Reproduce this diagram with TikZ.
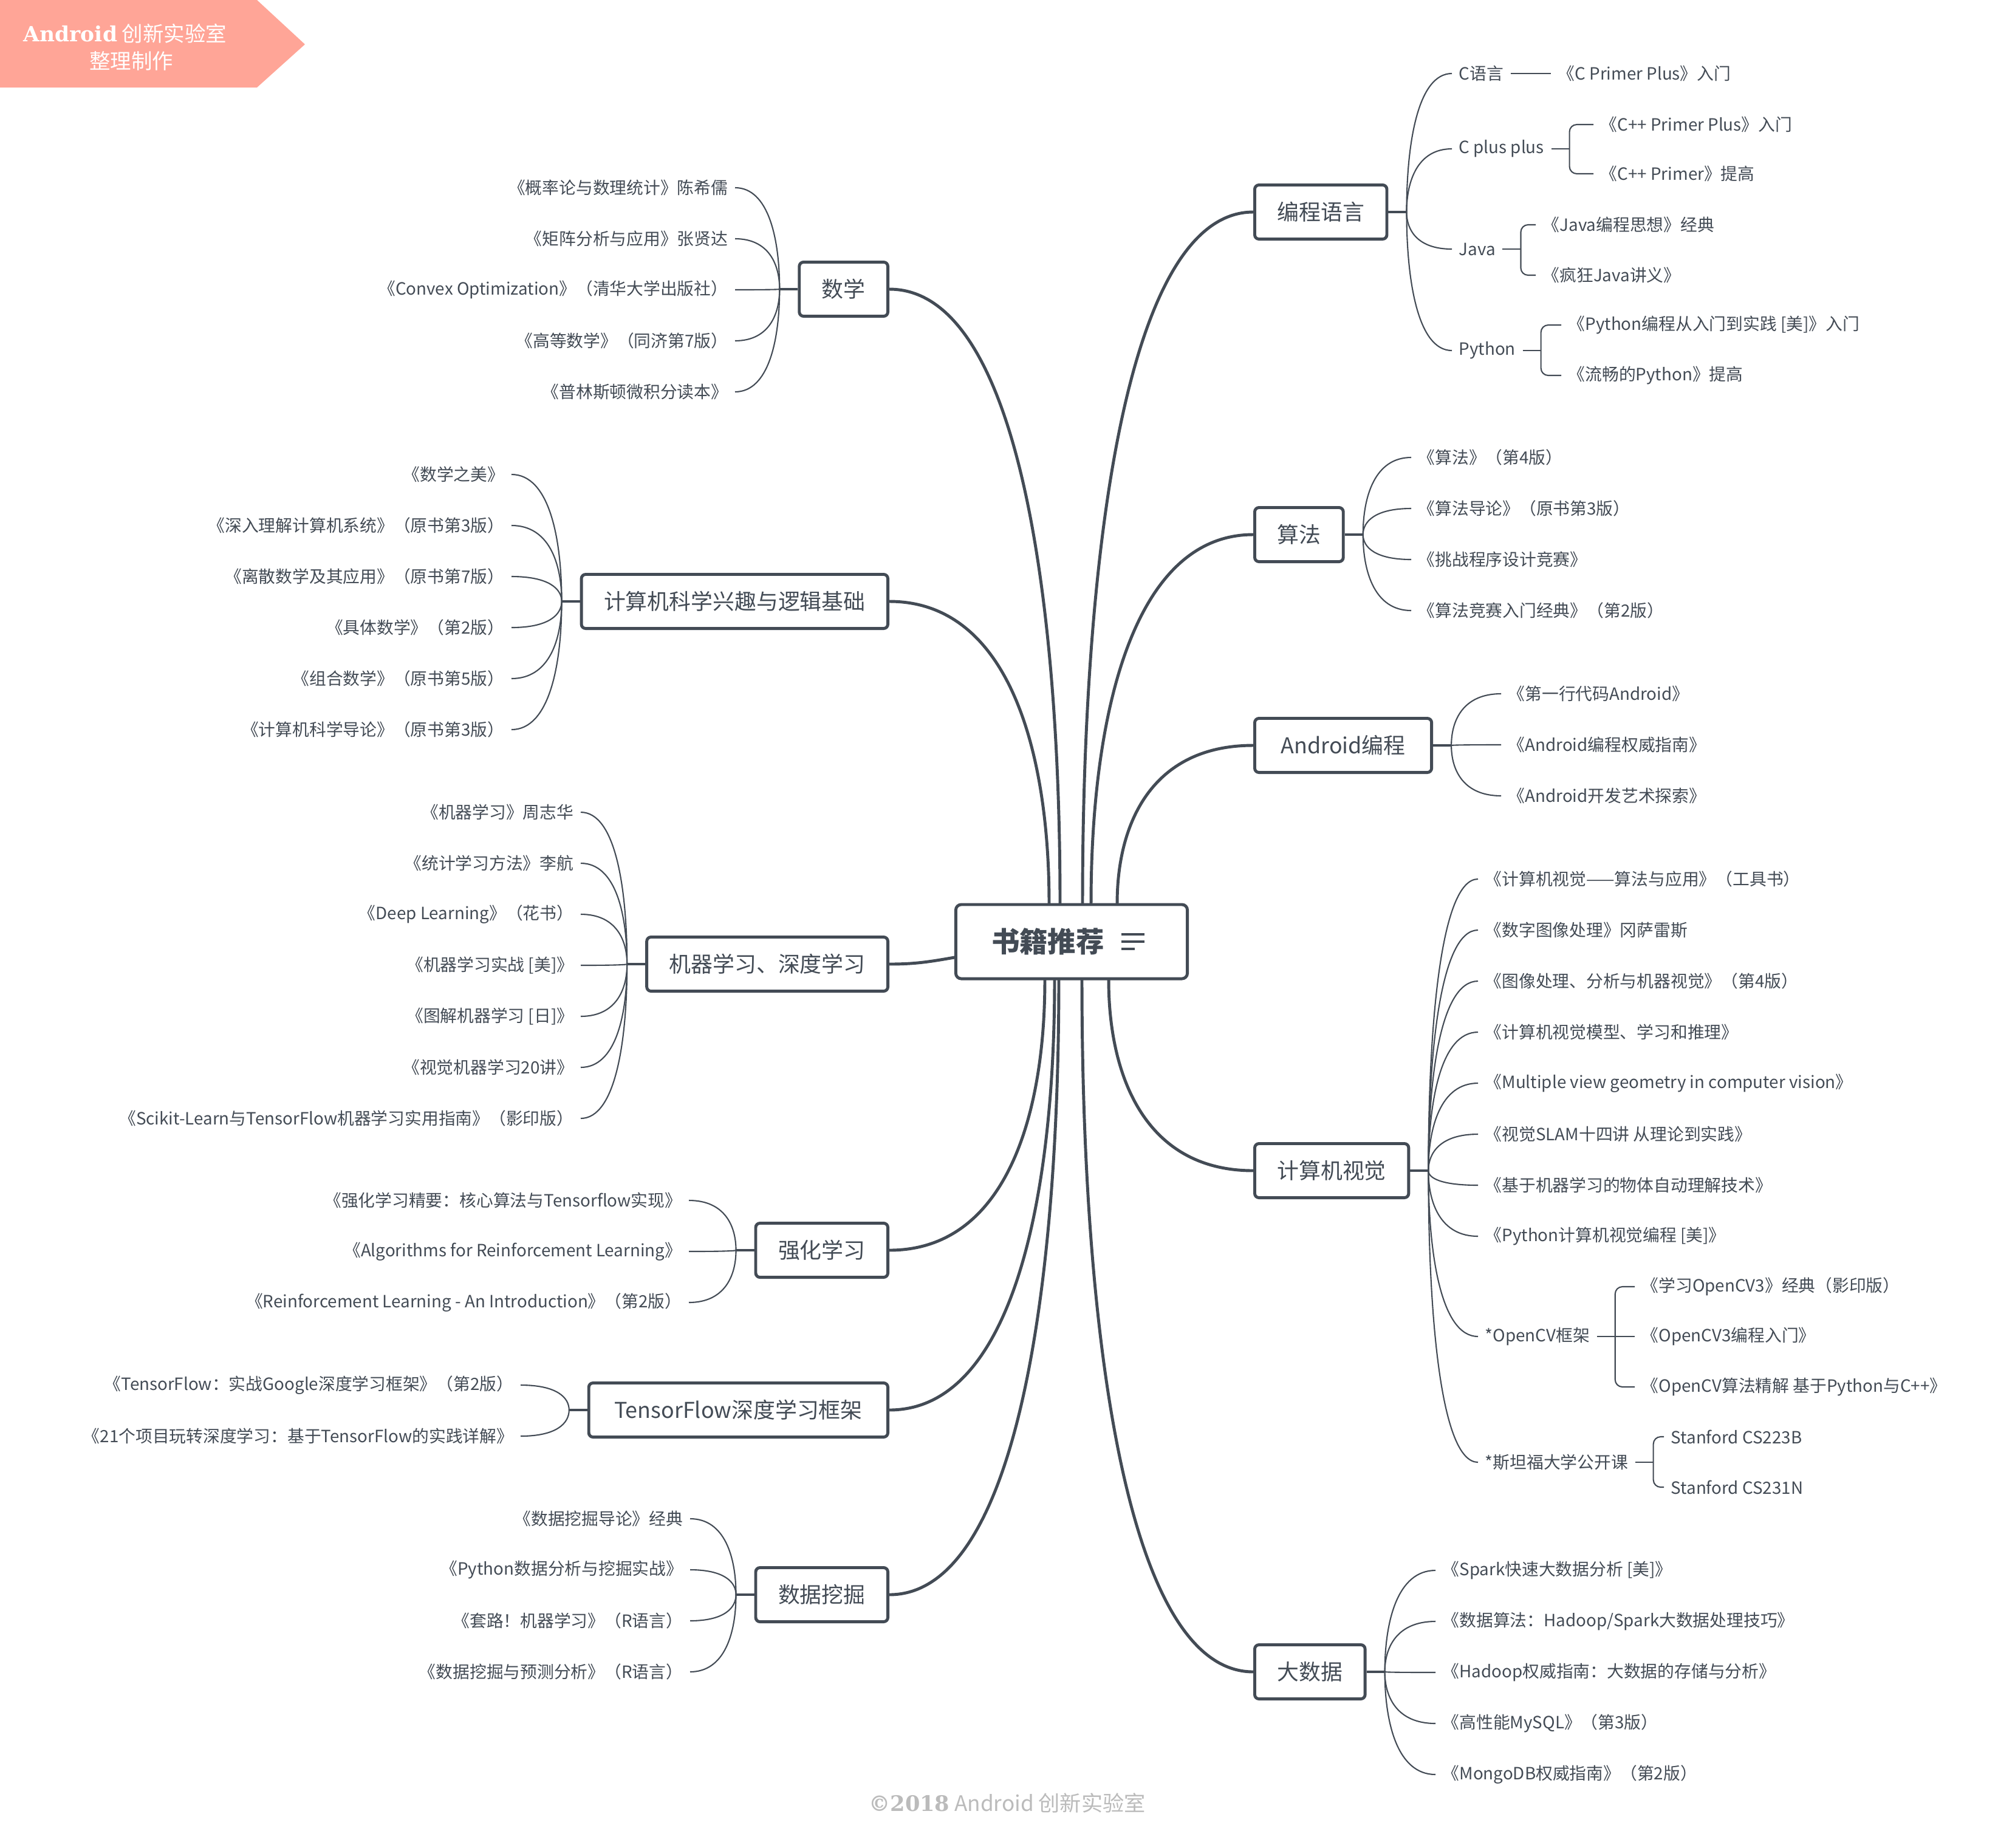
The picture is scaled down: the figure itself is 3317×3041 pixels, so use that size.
\documentclass[tikz,border=0pt]{standalone}
\usepackage{fontspec}
\setmainfont{Noto Sans CJK SC}
\newfontfamily\slabfont{DejaVu Serif}
\usetikzlibrary{calc}
\definecolor{ink}{HTML}{434B55}
\definecolor{badgefill}{HTML}{FFA597}
\definecolor{footgray}{HTML}{BBBBBB}
\tikzset{rootbox/.style={rectangle,draw=ink,line width=1.4pt,rounded corners=0.09cm,fill=white,minimum width=3.81cm,minimum height=1.22cm,text=ink,font=\fontsize{13.2}{15}\selectfont\bfseries},
topicbox/.style={rectangle,draw=ink,line width=1.4pt,rounded corners=0.07cm,fill=white,minimum height=0.89cm,inner xsep=0.37cm,text=ink,font=\fontsize{10.2}{12}\selectfont},
bookleaf/.style={inner xsep=0.11cm,inner ysep=0.03cm,text=ink,font=\fontsize{7.9}{9.4}\selectfont},
bough/.style={draw=ink,line width=1.4pt,line cap=round},
twig/.style={draw=ink,line width=0.6pt},
stubline/.style={draw=ink,line width=0.9pt},
badgetext/.style={text=white,font=\fontsize{9.8}{12}\selectfont}}
% curve that leaves #2 vertically and reaches #3 horizontally
\newcommand{\fanline}[3]{\draw[#1] (#2) .. controls ($(#2)!0.5!(#3 -| #2)$) and ($(#3)!0.75!(#3 -| #2)$) .. (#3);}

\begin{document}
\begin{tikzpicture}[x=0.01cm,y=-0.01cm]
\useasboundingbox (0,0) rectangle (3317,3041);

% badge
\fill[badgefill] (0,0) -- (423,0) -- (502,73) -- (423,144) -- (0,144) -- cycle;
\node[badgetext] (badge1) at (206,55) {{\slabfont\bfseries Android} 创新实验室};
\node[badgetext] (badge2) at (216,100) {整理制作};

% centre
\node[rootbox] (root) at (1764,1550) {书籍推荐\rule{0.78cm}{0pt}};
\foreach \w/\dy in {0.38/0.12, 0.38/0, 0.22/-0.12}
  \draw[ink,line width=1pt] ([xshift=0.82cm,yshift=\dy cm]root.center) -- ++(\w cm,0);

% main topics
\node[topicbox,anchor=east] (math) at (1464,476) {数学};
\node[topicbox,anchor=east] (csbase) at (1464,990) {计算机科学兴趣与逻辑基础};
\node[topicbox,anchor=east] (mldl) at (1464,1587) {机器学习、深度学习};
\node[topicbox,anchor=east] (rl) at (1464,2058) {强化学习};
\node[topicbox,anchor=east,minimum width=4.92cm] (tf) at (1464,2321) {TensorFlow深度学习框架};
\node[topicbox,anchor=east] (dm) at (1464,2625) {数据挖掘};
\node[topicbox,anchor=west] (prog) at (2063,349) {编程语言};
\node[topicbox,anchor=west] (algo) at (2063,880) {算法};
\node[topicbox,anchor=west,minimum width=2.91cm] (andr) at (2063,1227) {Android编程};
\node[topicbox,anchor=west] (cv) at (2063,1927) {计算机视觉};
\node[topicbox,anchor=west] (bigd) at (2063,2752) {大数据};

\foreach \n in {math,csbase,mldl,rl,tf,dm} {
  \coordinate (j\n) at ([xshift=-0.3cm]\n.west);
  \draw[stubline] (\n.west) -- (j\n);
}
\foreach \n in {prog,algo,andr,cv,bigd} {
  \coordinate (j\n) at ([xshift=0.3cm]\n.east);
  \draw[stubline] (\n.east) -- (j\n);
}

% boughs from the centre
\coordinate (rn1) at ([xshift=-0.37cm]root.north);
\coordinate (rn2) at ([xshift=-0.19cm]root.north);
\coordinate (rn3) at ([xshift=0.18cm]root.north);
\coordinate (rn4) at ([xshift=0.32cm]root.north);
\coordinate (rn5) at ([xshift=0.75cm]root.north);
\coordinate (rs1) at ([xshift=-0.44cm]root.south);
\coordinate (rs2) at ([xshift=-0.28cm]root.south);
\coordinate (rs3) at ([xshift=-0.21cm]root.south);
\coordinate (rs4) at ([xshift=0.17cm]root.south);
\coordinate (rs5) at ([xshift=0.61cm]root.south);
\coordinate (rw) at ([yshift=-0.26cm]root.west);
\fanline{bough}{rn1}{csbase.east}
\fanline{bough}{rn2}{math.east}
\fanline{bough}{rn3}{prog.west}
\fanline{bough}{rn4}{algo.west}
\fanline{bough}{rn5}{andr.west}
\fanline{bough}{rs1}{rl.east}
\fanline{bough}{rs2}{tf.east}
\fanline{bough}{rs3}{dm.east}
\fanline{bough}{rs4}{bigd.west}
\fanline{bough}{rs5}{cv.west}
\draw[bough] (rw) to[out=190,in=0] (mldl.east);

% left leaves
\foreach \t [count=\i] in {《概率论与数理统计》陈希儒, 《矩阵分析与应用》张贤达, 《Convex Optimization》（清华大学出版社）, 《高等数学》（同济第7版）, 《普林斯顿微积分读本》}
  \node[bookleaf,anchor=east] (ma\i) at (1210,225+84*\i) {\t};
\foreach \i in {1,...,5} {\fanline{twig}{jmath}{ma\i.east}}

\foreach \t [count=\i] in {《数学之美》, 《深入理解计算机系统》（原书第3版）, 《离散数学及其应用》（原书第7版）, 《具体数学》（第2版）, 《组合数学》（原书第5版）, 《计算机科学导论》（原书第3版）}
  \node[bookleaf,anchor=east] (cs\i) at (842,697+84*\i) {\t};
\foreach \i in {1,...,6} {\fanline{twig}{jcsbase}{cs\i.east}}

\foreach \t [count=\i] in {《机器学习》周志华, 《统计学习方法》李航, 《Deep Learning》（花书）, 《机器学习实战 [美]》, 《图解机器学习 [日]》, 《视觉机器学习20讲》, 《Scikit-Learn与TensorFlow机器学习实用指南》（影印版）}
  \node[bookleaf,anchor=east] (ml\i) at (956,1253+84*\i) {\t};
\foreach \i in {1,...,7} {\fanline{twig}{jmldl}{ml\i.east}}

\foreach \t [count=\i] in {《强化学习精要：核心算法与Tensorflow实现》, 《Algorithms for Reinforcement Learning》, 《Reinforcement Learning - An Introduction》（第2版）}
  \node[bookleaf,anchor=east] (rl\i) at (1134,1892+84*\i) {\t};
\foreach \i in {1,...,3} {\fanline{twig}{jrl}{rl\i.east}}

\foreach \t [count=\i] in {《TensorFlow：实战Google深度学习框架》（第2版）, 《21个项目玩转深度学习：基于TensorFlow的实践详解》}
  \node[bookleaf,anchor=east] (tf\i) at (857,2196+84*\i) {\t};
\foreach \i in {1,2} {\fanline{twig}{jtf}{tf\i.east}}

\foreach \t [count=\i] in {《数据挖掘导论》经典, 《Python数据分析与挖掘实战》, 《套路！机器学习》（R语言）, 《数据挖掘与预测分析》（R语言）}
  \node[bookleaf,anchor=east] (dm\i) at (1136,2416+84*\i) {\t};
\foreach \i in {1,...,4} {\fanline{twig}{jdm}{dm\i.east}}

% right leaves
\node[bookleaf,anchor=west] (clang) at (2390,121) {C语言};
\node[bookleaf,anchor=west] (cpp) at (2390,245) {C plus plus};
\node[bookleaf,anchor=west] (java) at (2390,410) {Java};
\node[bookleaf,anchor=west] (py) at (2390,577) {Python};
\foreach \n in {clang,cpp,java,py} {\fanline{twig}{jprog}{\n.west}}
\node[bookleaf,anchor=west] (clang1) at (2553,121) {《C Primer Plus》入门};
\draw[twig] (clang.east) -- (clang1.west);
\node[bookleaf,anchor=west] (cpp1) at (2623,205) {《C++ Primer Plus》入门};
\node[bookleaf,anchor=west] (cpp2) at (2623,286) {《C++ Primer》提高};
\node[bookleaf,anchor=west] (java1) at (2528,370) {《Java编程思想》经典};
\node[bookleaf,anchor=west] (java2) at (2528,453) {《疯狂Java讲义》};
\node[bookleaf,anchor=west] (py1) at (2570,535) {《Python编程从入门到实践 [美]》入门};
\node[bookleaf,anchor=west] (py2) at (2570,618) {《流畅的Python》提高};

\foreach \t [count=\i] in {《算法》（第4版）, 《算法导论》（原书第3版）, 《挑战程序设计竞赛》, 《算法竞赛入门经典》（第2版）}
  \node[bookleaf,anchor=west] (al\i) at (2323,669+84*\i) {\t};
\foreach \i in {1,...,4} {\fanline{twig}{jalgo}{al\i.west}}

\foreach \t [count=\i] in {《第一行代码Android》, 《Android编程权威指南》, 《Android开发艺术探索》}
  \node[bookleaf,anchor=west] (an\i) at (2471,1058+84*\i) {\t};
\foreach \i in {1,...,3} {\fanline{twig}{jandr}{an\i.west}}

\foreach \t [count=\i] in {《计算机视觉——算法与应用》（工具书）, 《数字图像处理》冈萨雷斯, 《图像处理、分析与机器视觉》（第4版）, 《计算机视觉模型、学习和推理》, 《Multiple view geometry in computer vision》, 《视觉SLAM十四讲 从理论到实践》, 《基于机器学习的物体自动理解技术》, 《Python计算机视觉编程 [美]》}
  \node[bookleaf,anchor=west] (cv\i) at (2433,1363+84*\i) {\t};
\foreach \i in {1,...,8} {\fanline{twig}{jcv}{cv\i.west}}
\node[bookleaf,anchor=west] (ocv) at (2433,2200) {*OpenCV框架};
\node[bookleaf,anchor=west] (stan) at (2433,2407) {*斯坦福大学公开课};
\fanline{twig}{jcv}{ocv.west}
\fanline{twig}{jcv}{stan.west}
\node[bookleaf,anchor=west] (ocv1) at (2691,2118) {《学习OpenCV3》经典（影印版）};
\node[bookleaf,anchor=west] (ocv2) at (2691,2200) {《OpenCV3编程入门》};
\node[bookleaf,anchor=west] (ocv3) at (2691,2283) {《OpenCV算法精解 基于Python与C++》};
\node[bookleaf,anchor=west] (stan1) at (2739,2365) {Stanford CS223B};
\node[bookleaf,anchor=west] (stan2) at (2739,2448) {Stanford CS231N};

% brackets
\foreach \n in {cpp,java,py,stan} {
  \coordinate (j\n) at ([xshift=0.3cm]\n.east);
  \draw[twig] (\n.east) -- (j\n);
  \draw[twig,rounded corners=0.12cm] (\n1.west) -| (j\n) |- (\n2.west);
}
\coordinate (jocv) at ([xshift=0.3cm]ocv.east);
\draw[twig] (ocv.east) -- (jocv) -- (ocv2.west);
\draw[twig,rounded corners=0.12cm] (ocv1.west) -| (jocv) |- (ocv3.west);

\foreach \t [count=\i] in {《Spark快速大数据分析 [美]》, 《数据算法：Hadoop/Spark大数据处理技巧》, 《Hadoop权威指南：大数据的存储与分析》, 《高性能MySQL》（第3版）, 《MongoDB权威指南》（第2版）}
  \node[bookleaf,anchor=west] (bd\i) at (2363,2501+84*\i) {\t};
\foreach \i in {1,...,5} {\fanline{twig}{jbigd}{bd\i.west}}

% footer
\node[text=footgray,font=\fontsize{10}{12}\selectfont] (credit) at (1658,2968) {{\slabfont\bfseries ©2018} Android 创新实验室};
\end{tikzpicture}
\end{document}
